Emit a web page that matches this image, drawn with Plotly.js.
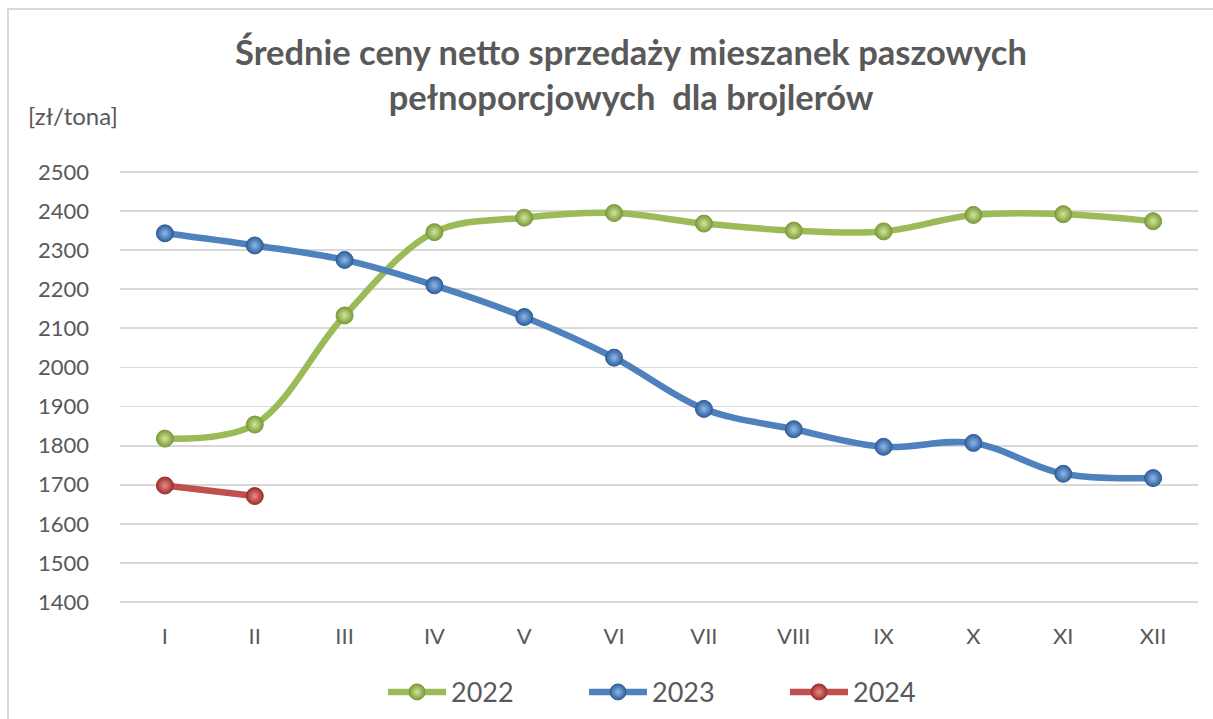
<!DOCTYPE html>
<html>
<head>
<meta charset="utf-8">
<script src="https://cdn.plot.ly/plotly-3.0.1.min.js"></script>
<style>
  html, body { margin: 0; padding: 0; background: #ffffff; }
  #wrap { position: relative; width: 1213px; height: 719px; overflow: hidden; }
  #frame { position: absolute; left: 7px; top: 8px; width: 1220px; height: 730px; border: 2px solid #d9d9d9; box-sizing: border-box; pointer-events: none; }
  #chart { position: absolute; left: 0; top: 0; width: 1213px; height: 719px; }
</style>
</head>
<body>
<div id="wrap">
  <div id="chart"></div>
  <div id="frame"></div>
</div>
<script>
const months = ['I', 'II', 'III', 'IV', 'V', 'VI', 'VII', 'VIII', 'IX', 'X', 'XI', 'XII'];
const months2024 = ['I', 'II'];
const v2022 = [1818, 1854, 2133, 2346, 2383, 2395, 2368, 2350, 2348, 2390, 2392, 2374];
const v2023 = [2343, 2312, 2275, 2210, 2129, 2025, 1894, 1842, 1797, 1807, 1728, 1717];
const v2024 = [1698, 1671];
const seriesNames = ['2022', '2023', '2024'];
const titleText = 'Średnie ceny netto sprzedaży mieszanek paszowych<br>pełnoporcjowych\u00a0 dla brojlerów';
const unitText = '[zł/tona]';

const FONT = 'Lato, "Open Sans", sans-serif';
const TXT = '#595959';

function series(name, x, y, lineColor, edge, center) {
  return {
    type: 'scatter', mode: 'lines+markers', name: name, x: x, y: y,
    line: { color: lineColor, width: 6.5, shape: 'spline', smoothing: 1 },
    marker: { size: 17, color: edge, gradient: { type: 'radial', color: center }, line: { color: edge, width: 1 } },
    cliponaxis: false
  };
}

const data = [
  series(seriesNames[0], months, v2022, '#9bbb59', '#7d9b3c', '#cfe69a'),
  series(seriesNames[1], months, v2023, '#4f81bd', '#2f5f9a', '#8fb8ea'),
  series(seriesNames[2], months2024, v2024, '#c0504d', '#9c302d', '#ec8a87')
];

const layout = {
  width: 1213, height: 719,
  margin: { l: 120, r: 15, t: 169.5, b: 115.4, autoexpand: false },
  paper_bgcolor: 'rgba(0,0,0,0)', plot_bgcolor: 'rgba(0,0,0,0)',
  font: { family: FONT, color: TXT },
  title: {
    text: titleText, xref: 'container', yref: 'container',
    x: 631 / 1213, xanchor: 'center', y: 1 - 65 / 719, yanchor: 'top',
    font: { family: FONT, size: 34.5, color: TXT, weight: 'bold' }
  },
  xaxis: {
    type: 'category', range: [-0.5, 11.5], showgrid: false, zeroline: false,
    showline: false, ticks: '', ticklabelstandoff: 17,
    tickfont: { family: FONT, size: 22, color: TXT }, fixedrange: true
  },
  yaxis: {
    range: [1395, 2505], dtick: 100, tick0: 1400, showgrid: true,
    gridcolor: '#d9d9d9', gridwidth: 1.8, zeroline: false, showline: false,
    ticks: '', ticklabelstandoff: 30,
    tickfont: { family: FONT, size: 22, color: TXT }, fixedrange: true
  },
  showlegend: true,
  legend: {
    orientation: 'h', xref: 'paper', yref: 'paper',
    x: (383 - 120) / 1078, xanchor: 'left', y: (603.6 - 692) / 434.1, yanchor: 'middle',
    font: { family: FONT, size: 27, color: TXT },
    itemwidth: 58, entrywidth: 128, entrywidthmode: 'pixels',
    bgcolor: 'rgba(0,0,0,0)'
  },
  annotations: [{
    text: unitText, xref: 'paper', yref: 'paper',
    x: (26 - 120) / 1078, xanchor: 'left', y: (603.6 - 115) / 434.1, yanchor: 'middle',
    showarrow: false, font: { family: FONT, size: 24, color: TXT }
  }]
};

Plotly.newPlot('chart', data, layout, { displayModeBar: false, staticPlot: true });
</script>
</body>
</html>
